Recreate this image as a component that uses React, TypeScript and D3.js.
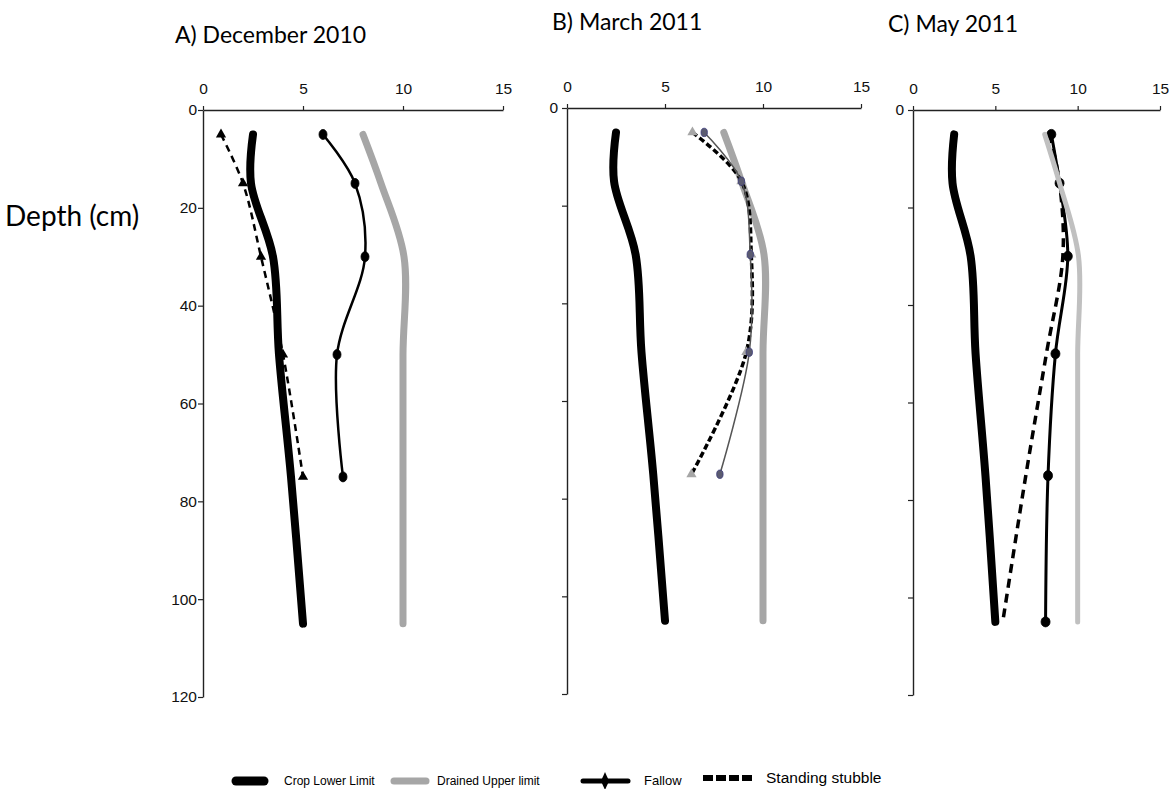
import * as d3 from "d3";
import React, { useEffect, useRef } from "react";

// sampling depths (cm)
const depths = [5, 15, 30, 50, 75, 105];
const fieldDepthsShort = [5, 15, 30, 50, 75];

// soil water limits, same in every panel
const cropLowerLimit = [2.5, 2.4, 3.5, 3.8, 4.4, 5.0];
const drainedUpperLimit = [8.0, 8.9, 10.05, 10.0, 10.0, 10.0];

// measured water content
const fallowDec = [6.0, 7.6, 8.1, 6.7, 7.0];
const stubbleDec = [0.9, 2.0, 2.9, 4.0, 5.0];
const fallowMar = [7.0, 8.9, 9.35, 9.3, 7.8];
const stubbleMar = [6.4, 8.9, 9.4, 9.15, 6.35];
const fallowMay = [8.4, 8.9, 9.4, 8.65, 8.2, 8.05];
const stubbleMay = [8.3, 8.9, 9.1, 8.1, 6.85, 5.45];

const xTicks = [0, 5, 10, 15];
const depthTicks = [0, 20, 40, 60, 80, 100, 120];
const panelTitles = ["A) December 2010", "B) March 2011", "C) May 2011"];
const legendLabels = [
  "Crop Lower Limit",
  "Drained Upper limit",
  "Fallow",
  "Standing stubble",
];

type Pt = [number, number];
const zip = (vals: number[], ds: number[]): Pt[] => vals.map((v, i) => [v, ds[i]]);

const App: React.FC = () => {
  const ref = useRef<SVGSVGElement | null>(null);

  useEffect(() => {
    if (!ref.current) return;
    const svg = d3.select(ref.current);
    svg.selectAll("*").remove();

    const width = 1171;
    const height = 789;
    svg.attr("width", width).attr("height", height);

    const tickFont = "Liberation Sans, Arial, sans-serif";
    const titleFont = "Lato, Carlito, sans-serif";

    const panels = [
      {
        title: panelTitles[0],
        titlePos: [175, 43],
        xr: [203, 503],
        yr: [110, 697],
        allLabels: true,
        fallow: zip(fallowDec, fieldDepthsShort),
        stubble: zip(stubbleDec, fieldDepthsShort),
        fallowStyle: { color: "#000", width: 2.5, marker: "#000", rx: 4, ry: 5, mstroke: "#000" },
        stubbleStyle: { color: "#000", width: 2.5, dash: "7,5", marker: "#000", tri: true },
        dulColor: "#a6a6a6",
        dulWidth: 7,
        limitsOnTop: true,
      },
      {
        title: panelTitles[1],
        titlePos: [552, 30],
        xr: [567, 861],
        yr: [108, 694],
        allLabels: false,
        fallow: zip(fallowMar, fieldDepthsShort),
        stubble: zip(stubbleMar, fieldDepthsShort),
        fallowStyle: { color: "#555", width: 1.5, marker: "#5b5b70", rx: 3.2, ry: 4.2, mstroke: "#3a3a7a" },
        stubbleStyle: { color: "#000", width: 3.5, dash: "6,3", marker: "#a6a6a6", tri: true },
        dulColor: "#a6a6a6",
        dulWidth: 7,
        limitsOnTop: false,
      },
      {
        title: panelTitles[2],
        titlePos: [888, 32],
        xr: [913, 1160],
        yr: [110, 695],
        allLabels: false,
        fallow: zip(fallowMay, depths),
        stubble: zip(stubbleMay, depths),
        fallowStyle: { color: "#000", width: 3, marker: "#000", rx: 4.5, ry: 5, mstroke: "#000" },
        stubbleStyle: { color: "#000", width: 3.5, dash: "9,6", marker: null, tri: false },
        dulColor: "#c0c0c0",
        dulWidth: 5,
        limitsOnTop: true,
      },
    ];

    panels.forEach((p) => {
      const x = d3.scaleLinear().domain([0, 15]).range(p.xr);
      const y = d3.scaleLinear().domain([0, 120]).range(p.yr);
      const g = svg.append("g");

      const line = d3
        .line<Pt>()
        .x((d) => x(d[0]))
        .y((d) => y(d[1]))
        .curve(d3.curveCatmullRom.alpha(0.5));

      const drawLimits = () => {
        g.append("path")
          .datum(zip(cropLowerLimit, depths))
          .attr("fill", "none")
          .attr("stroke", "#000")
          .attr("stroke-width", 8)
          .attr("stroke-linecap", "round")
          .attr("d", line);
        g.append("path")
          .datum(zip(drainedUpperLimit, depths))
          .attr("fill", "none")
          .attr("stroke", p.dulColor)
          .attr("stroke-width", p.dulWidth)
          .attr("stroke-linecap", "round")
          .attr("d", line);
      };

      const drawField = () => {
        const ss = p.stubbleStyle;
        g.append("path")
          .datum(p.stubble)
          .attr("fill", "none")
          .attr("stroke", ss.color)
          .attr("stroke-width", ss.width)
          .attr("stroke-dasharray", ss.dash)
          .attr("d", line);
        if (ss.tri) {
          g.selectAll(null)
            .data(p.stubble)
            .join("path")
            .attr("transform", (d) => `translate(${x(d[0])},${y(d[1])})`)
            .attr("d", d3.symbol(d3.symbolTriangle, 45)())
            .attr("fill", ss.marker as string);
        }
        const fs = p.fallowStyle;
        g.append("path")
          .datum(p.fallow)
          .attr("fill", "none")
          .attr("stroke", fs.color)
          .attr("stroke-width", fs.width)
          .attr("d", line);
        g.selectAll(null)
          .data(p.fallow)
          .join("ellipse")
          .attr("cx", (d) => x(d[0]))
          .attr("cy", (d) => y(d[1]))
          .attr("rx", fs.rx)
          .attr("ry", fs.ry)
          .attr("fill", fs.marker)
          .attr("stroke", fs.mstroke)
          .attr("stroke-width", 0.8);
      };

      if (p.limitsOnTop) {
        drawField();
        drawLimits();
      } else {
        drawLimits();
        drawField();
      }

      // top axis (water content)
      const xAxis = g
        .append("g")
        .attr("transform", `translate(0,${p.yr[0]})`)
        .call(
          d3.axisTop(x).tickValues(xTicks).tickSize(4).tickSizeOuter(0).tickPadding(12)
        );
      // left axis (depth)
      const yAxis = g
        .append("g")
        .attr("transform", `translate(${p.xr[0]},0)`)
        .call(
          d3
            .axisLeft(y)
            .tickValues(depthTicks)
            .tickSize(5)
            .tickSizeOuter(0)
            .tickPadding(p.allLabels ? 1 : 4)
            .tickFormat((d) => (p.allLabels || d === 0 ? String(d) : ""))
        );
      [xAxis, yAxis].forEach((a) => {
        a.select(".domain").attr("stroke", "#222").attr("stroke-width", 1.4);
        a.selectAll(".tick line").attr("stroke", "#222").attr("stroke-width", 1.2);
        a.selectAll(".tick text")
          .attr("font-family", tickFont)
          .attr("font-size", 15.5)
          .attr("fill", "#111");
      });

      svg
        .append("text")
        .attr("x", p.titlePos[0])
        .attr("y", p.titlePos[1])
        .attr("font-family", titleFont)
        .attr("font-size", 23)
        .attr("fill", "#000")
        .text(p.title);
    });

    svg
      .append("text")
      .attr("x", 5)
      .attr("y", 226)
      .attr("font-family", titleFont)
      .attr("font-size", 28)
      .attr("fill", "#000")
      .text("Depth (cm)");

    // legend
    const lg = svg.append("g");
    const legendFont = "Liberation Sans Narrow, Liberation Sans, Arial, sans-serif";
    const ly = 781;
    lg.append("line")
      .attr("x1", 236).attr("x2", 264).attr("y1", ly).attr("y2", ly)
      .attr("stroke", "#000").attr("stroke-width", 9).attr("stroke-linecap", "round");
    lg.append("line")
      .attr("x1", 394).attr("x2", 426).attr("y1", ly).attr("y2", ly)
      .attr("stroke", "#a6a6a6").attr("stroke-width", 7).attr("stroke-linecap", "round");
    lg.append("line")
      .attr("x1", 583).attr("x2", 628).attr("y1", ly).attr("y2", ly)
      .attr("stroke", "#000").attr("stroke-width", 5).attr("stroke-linecap", "round");
    lg.append("path")
      .attr("d", `M605,${ly - 9}L609,${ly}L605,${ly + 9}L601,${ly}Z`)
      .attr("fill", "#000");
    lg.append("line")
      .attr("x1", 703).attr("x2", 752).attr("y1", ly - 3).attr("y2", ly - 3)
      .attr("stroke", "#000").attr("stroke-width", 6).attr("stroke-dasharray", "10,3");

    const legendX = [284, 437, 644, 766];
    const legendY = [785, 785, 785, 783];
    const legendSize = [12, 12, 13, 15.5];
    legendLabels.forEach((t, i) => {
      lg.append("text")
        .attr("x", legendX[i])
        .attr("y", legendY[i])
        .attr("font-family", legendFont)
        .attr("font-size", legendSize[i])
        .attr("fill", "#000")
        .text(t);
    });
  }, []);

  return (
    <svg
      ref={ref}
      style={{ position: "absolute", left: 0, top: 0, background: "#fff" }}
    ></svg>
  );
};

export default App;
